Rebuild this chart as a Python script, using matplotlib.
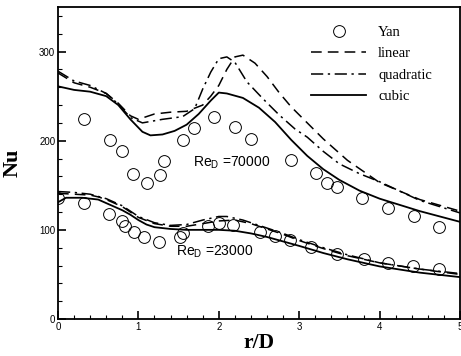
import numpy as np
import matplotlib
matplotlib.use('Agg')
from matplotlib import pyplot as plt
from matplotlib.ticker import MultipleLocator

yan_hi_x = [0.32, 0.65, 0.80, 0.93, 1.11, 1.27, 1.32, 1.55, 1.69, 1.94, 2.20, 2.40,
            2.90, 3.21, 3.35, 3.47, 3.78, 4.10, 4.43, 4.74]
yan_hi_y = [224, 201, 189, 163, 153, 162, 177, 201, 214, 227, 215, 202,
            178, 164, 153, 148, 136, 125, 115, 103]
yan_lo_x = [0.0, 0.32, 0.63, 0.79, 0.83, 0.94, 1.07, 1.26, 1.52, 1.55, 1.87, 2.0,
            2.18, 2.51, 2.70, 2.89, 3.15, 3.47, 3.80, 4.10, 4.42, 4.74]
yan_lo_y = [136, 130, 118, 110, 104, 98, 92, 86, 92, 97, 104, 108,
            106, 98, 93, 89, 81, 73, 67, 63, 60, 56]

# Re_D = 70000 curves
cub_hi_x = [0, 0.2, 0.4, 0.6, 0.75, 0.9, 1.05, 1.15, 1.3, 1.45, 1.6, 1.75, 1.9, 2.0,
            2.1, 2.3, 2.5, 2.7, 2.9, 3.1, 3.3, 3.5, 3.75, 4.0, 4.5, 5.0]
cub_hi_y = [261, 257, 255, 250, 240, 224, 210, 206, 207, 211, 218, 230, 245, 254,
            253, 248, 237, 221, 201, 183, 168, 156, 144, 135, 121, 109]
lin_hi_x = [0, 0.2, 0.4, 0.6, 0.75, 0.9, 1.0, 1.2, 1.4, 1.6, 1.8, 1.9, 2.0, 2.1,
            2.2, 2.3, 2.45, 2.6, 2.75, 2.9, 3.1, 3.3, 3.6, 4.0, 4.5, 5.0]
lin_hi_y = [276, 265, 260, 253, 242, 228, 224, 230, 232, 233, 240, 250, 262, 280,
            294, 296, 287, 272, 254, 238, 220, 202, 178, 153, 134, 121]
quad_hi_x = [0, 0.2, 0.4, 0.6, 0.75, 0.9, 1.05, 1.3, 1.55, 1.7, 1.8, 1.9, 2.0, 2.1,
             2.2, 2.35, 2.55, 2.75, 2.95, 3.1, 3.3, 3.5, 3.75, 4.0, 4.5, 5.0]
quad_hi_y = [278, 267, 262, 253, 241, 226, 220, 224, 227, 236, 258, 277, 292, 294,
             288, 266, 247, 229, 213, 204, 188, 174, 163, 154, 133, 119]

# Re_D = 23000 curves
cub_lo_x = [0, 0.1, 0.3, 0.5, 0.6, 0.7, 0.8, 0.9, 1.0, 1.1, 1.2, 1.4, 1.6, 1.8,
            2.0, 2.2, 2.4, 2.6, 2.8, 3.0, 3.3, 3.6, 4.0, 4.5, 5.0]
cub_lo_y = [131, 136, 136, 134, 130, 126, 122, 117, 111, 106, 103, 101, 100, 100,
            100, 99, 96, 92, 87, 82, 74, 67, 59, 52, 47]
lin_lo_x = [0, 0.2, 0.4, 0.5, 0.6, 0.8, 1.0, 1.2, 1.4, 1.6, 1.8, 2.0, 2.2, 2.4,
            2.6, 2.8, 3.0, 3.3, 3.6, 4.0, 4.5, 5.0]
lin_lo_y = [141, 140, 139, 137, 134, 126, 114, 107, 104, 104, 107, 110, 111, 107,
            101, 95, 88, 79, 71, 63, 56, 50]
quad_lo_x = [0, 0.2, 0.4, 0.6, 0.8, 1.0, 1.2, 1.4, 1.6, 1.8, 2.0, 2.1, 2.3, 2.6,
             2.8, 3.0, 3.3, 3.6, 4.0, 4.5, 5.0]
quad_lo_y = [143, 142, 140, 135, 127, 115, 108, 105, 106, 111, 115, 115, 111, 102,
             96, 89, 80, 72, 63, 56, 51]

serif = 'Liberation Serif'
sans = 'Liberation Sans'
plt.rcParams['font.family'] = sans
plt.rcParams['mathtext.fontset'] = 'custom'
plt.rcParams['mathtext.rm'] = sans

fig = plt.figure(figsize=(4.61, 3.56), dpi=100)
ax = fig.add_axes([58 / 461, 1 - 319 / 356, 402 / 461, 312 / 356])

lw = 1.1
dash = (0, (7, 4))
dashdot = (0, (8, 3, 1.5, 3))
ax.plot(yan_hi_x, yan_hi_y, 'o', mfc='none', mec='black', ms=8.5, mew=0.7, label='Yan')
ax.plot(yan_lo_x, yan_lo_y, 'o', mfc='none', mec='black', ms=8.5, mew=0.7)
ax.plot(lin_hi_x, lin_hi_y, color='black', lw=lw, ls=dash, label='linear')
ax.plot(quad_hi_x, quad_hi_y, color='black', lw=lw, ls=dashdot, label='quadratic')
ax.plot(cub_hi_x, cub_hi_y, color='black', lw=1.3, ls='-', label='cubic')
ax.plot(lin_lo_x, lin_lo_y, color='black', lw=lw, ls=dash)
ax.plot(quad_lo_x, quad_lo_y, color='black', lw=lw, ls=dashdot)
ax.plot(cub_lo_x, cub_lo_y, color='black', lw=1.3, ls='-')

ax.set_xlim(0, 5)
ax.set_ylim(0, 350)
ax.xaxis.set_major_locator(MultipleLocator(1))
ax.xaxis.set_minor_locator(MultipleLocator(0.2))
ax.yaxis.set_major_locator(MultipleLocator(100))
ax.yaxis.set_minor_locator(MultipleLocator(20))
ax.tick_params(which='both', direction='in', labelsize=7, pad=2)
ax.tick_params(which='major', length=6, width=1.2)
ax.tick_params(which='minor', length=3, width=0.8)
for s in ax.spines.values():
    s.set_linewidth(1.3)

ax.set_xlabel('r/D', fontfamily=serif, fontweight='bold', fontsize=15.5)
ax.set_ylabel('Nu', fontfamily=serif, fontweight='bold', fontsize=16)
ax.xaxis.set_label_coords(0.5, -0.045)
ax.yaxis.set_label_coords(-0.088, 0.5)

ax.text(1.68, 175, r'Re$_\mathregular{D}$ =70000', fontsize=10, va='center')
ax.text(1.47, 75, r'Re$_\mathregular{D}$ =23000', fontsize=10, va='center')

ax.legend(loc='upper left', bbox_to_anchor=((311 - 58) / 402, 1 - (26 - 7) / 312),
          frameon=False, borderpad=0, borderaxespad=0, handlelength=3.8,
          handletextpad=0.8, labelspacing=0.55, prop={'family': serif, 'size': 10.5})

fig.savefig('out.png', dpi=100)
